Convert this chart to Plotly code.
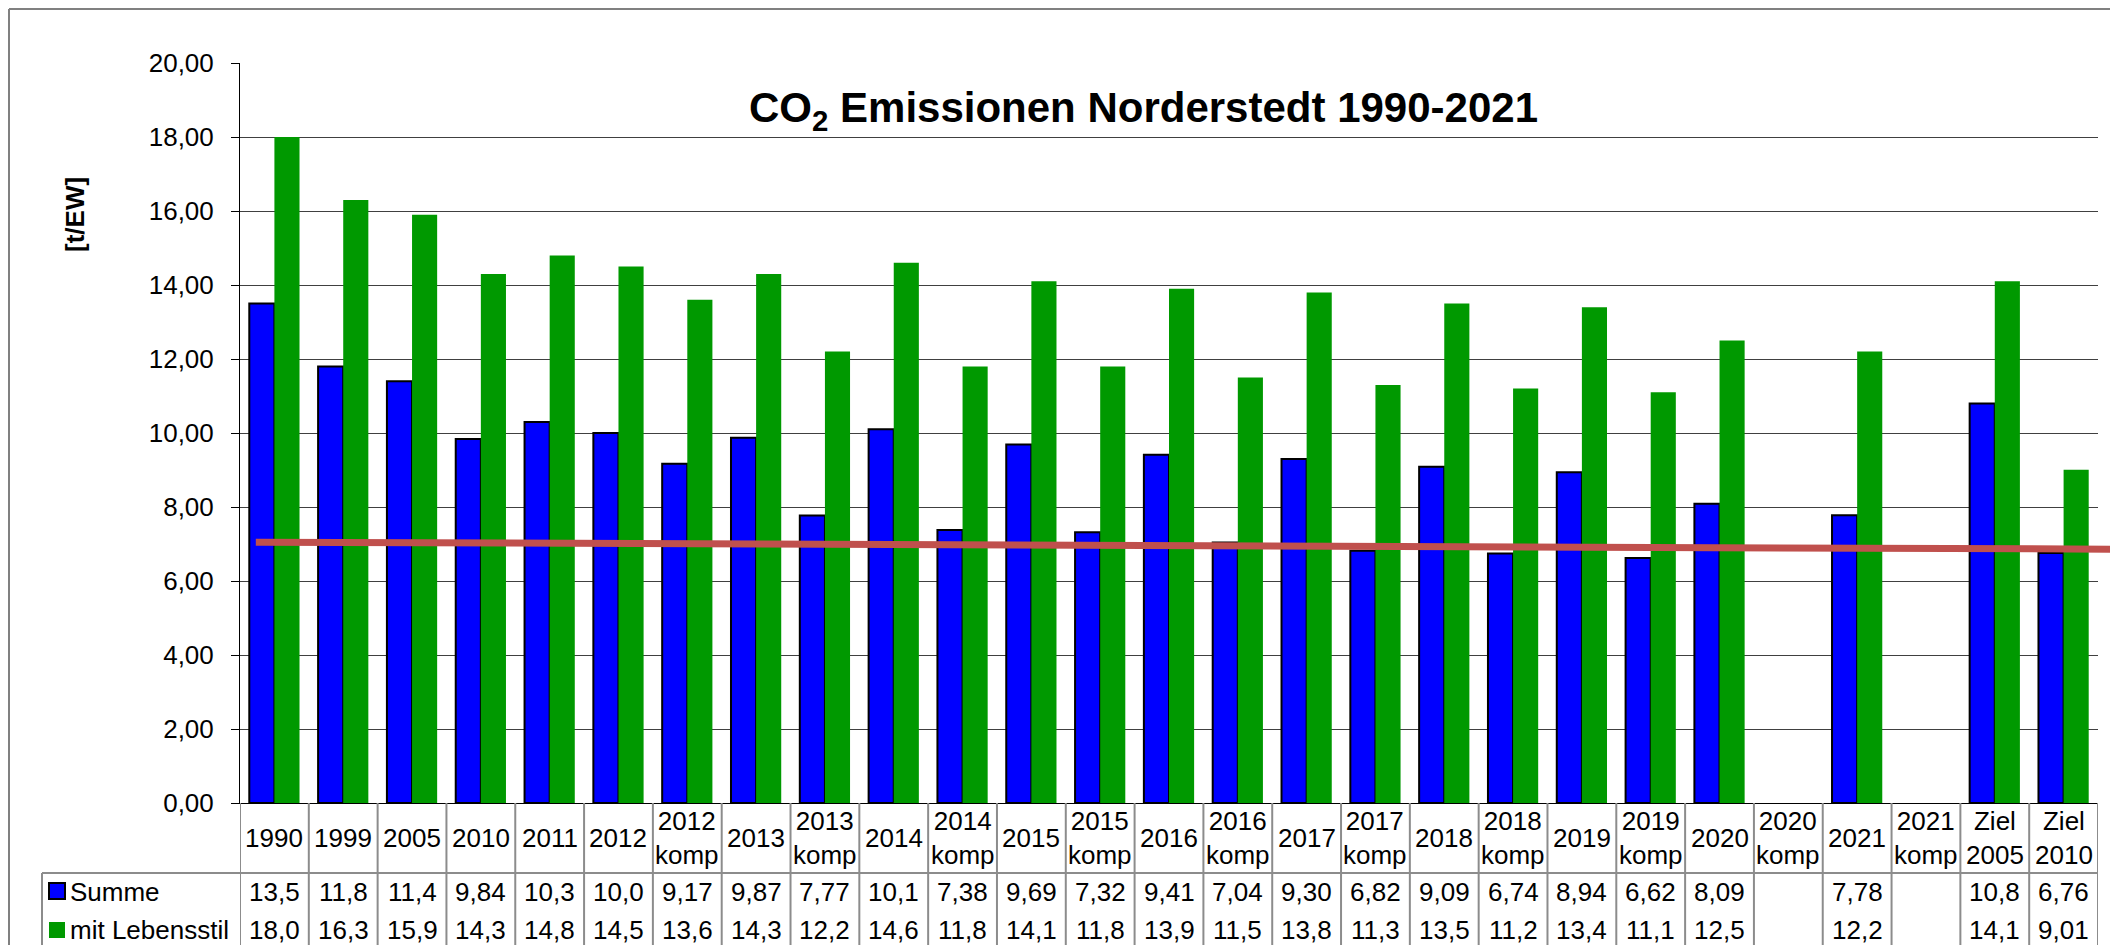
import plotly.graph_objects as go

# categories (table header) and series values
categories = ["1990", "1999", "2005", "2010", "2011", "2012", "2012 komp", "2013", "2013 komp",
              "2014", "2014 komp", "2015", "2015 komp", "2016", "2016 komp", "2017", "2017 komp",
              "2018", "2018 komp", "2019", "2019 komp", "2020", "2020 komp", "2021", "2021 komp",
              "Ziel 2005", "Ziel 2010"]
summe = [13.5, 11.8, 11.4, 9.84, 10.3, 10.0, 9.17, 9.87, 7.77, 10.1, 7.38, 9.69, 7.32, 9.41,
         7.04, 9.30, 6.82, 9.09, 6.74, 8.94, 6.62, 8.09, None, 7.78, None, 10.8, 6.76]
lebensstil = [18.0, 16.3, 15.9, 14.3, 14.8, 14.5, 13.6, 14.3, 12.2, 14.6, 11.8, 14.1, 11.8, 13.9,
              11.5, 13.8, 11.3, 13.5, 11.2, 13.4, 11.1, 12.5, None, 12.2, None, 14.1, 9.01]
# trend line: start / end value, positions in category units
trend_pos = [-0.27, 26.8]
trend_val = [7.05, 6.86]
y_ticks = [0, 2, 4, 6, 8, 10, 12, 14, 16, 18, 20]

W, H = 2118, 945
OFF = 8  # default body margin of the page
FONT = "Arial, Liberation Sans, sans-serif"
GRID = "#8c8c8c"


# screen pixel -> paper fraction
def fx(px):
    return (px - OFF) / W


def fy(py):
    return 1 - (py - OFF) / H


PL, PR, PT, PB = 240, 2098, 63, 803
n = len(categories)
px_per_cat = (PR - PL) / n
idx = list(range(n))


def fmt(v):
    return f"{v:#.3g}".replace(".", ",")


fig = go.Figure()

fig.add_trace(go.Bar(
    x=idx, y=summe, name="Summe",
    marker=dict(color="#0000FF", line=dict(color="black", width=2)),
    xaxis="x", yaxis="y"
))
fig.add_trace(go.Bar(
    x=idx, y=lebensstil, name="mit Lebensstil",
    marker=dict(color="#009900", line=dict(width=0)),
    xaxis="x", yaxis="y"
))

# trend line on an overlapping subplot that reaches the right picture edge
fig.add_trace(go.Scatter(
    x=trend_pos, y=trend_val, mode="lines",
    line=dict(color="#C0504D", width=7),
    xaxis="x2", yaxis="y2", hoverinfo="skip"
))

shapes = []
annotations = []
txt = dict(family=FONT, size=26, color="black")

# table vertical lines
for i in range(n + 1):
    shapes.append(dict(type="line", xref="x", yref="paper",
                       x0=i - 0.5, x1=i - 0.5, y0=fy(PB), y1=0,
                       line=dict(color=GRID, width=2)))
# horizontal line below header + legend column border
shapes.append(dict(type="line", xref="paper", yref="paper",
                   x0=fx(42), x1=fx(PR), y0=fy(873), y1=fy(873),
                   line=dict(color=GRID, width=2)))
shapes.append(dict(type="line", xref="paper", yref="paper",
                   x0=fx(42), x1=fx(42), y0=fy(873), y1=0,
                   line=dict(color=GRID, width=2)))
# outer chart border (right / bottom run off the picture)
shapes.append(dict(type="line", xref="paper", yref="paper",
                   x0=fx(9), x1=1, y0=fy(9), y1=fy(9),
                   line=dict(color="#808080", width=2)))
shapes.append(dict(type="line", xref="paper", yref="paper",
                   x0=fx(9), x1=fx(9), y0=fy(9), y1=0,
                   line=dict(color="#808080", width=2)))
# legend keys
shapes.append(dict(type="rect", xref="paper", yref="paper",
                   x0=fx(49), x1=fx(65), y0=fy(883), y1=fy(899),
                   fillcolor="#0000FF", line=dict(color="black", width=2)))
shapes.append(dict(type="rect", xref="paper", yref="paper",
                   x0=fx(49), x1=fx(65), y0=fy(922), y1=fy(938),
                   fillcolor="#009900", line=dict(width=0)))

# table texts
for i, cat in enumerate(categories):
    label = cat.replace(" komp", "<br>komp").replace("Ziel ", "Ziel<br>")
    annotations.append(dict(x=i, xref="x", y=fy(838), yref="paper", text=label,
                            showarrow=False, yanchor="middle", xanchor="center", font=txt))
    for row_y, series in ((892, summe), (930, lebensstil)):
        if series[i] is None:
            continue
        annotations.append(dict(x=i, xref="x", y=fy(row_y), yref="paper", text=fmt(series[i]),
                                showarrow=False, yanchor="middle", xanchor="center", font=txt))

annotations.append(dict(x=fx(68), y=fy(892), xref="paper", yref="paper", text="Summe",
                        showarrow=False, xanchor="left", yanchor="middle", font=txt))
annotations.append(dict(x=fx(68), y=fy(930), xref="paper", yref="paper", text="mit Lebensstil",
                        showarrow=False, xanchor="left", yanchor="middle", font=txt))

# title and axis title
annotations.append(dict(x=fx(1143), y=fy(111), xref="paper", yref="paper",
                        text="<b>CO<sub>2</sub> Emissionen Norderstedt 1990-2021</b>",
                        showarrow=False, xanchor="center", yanchor="middle",
                        font=dict(family=FONT, size=42, color="black")))
annotations.append(dict(x=fx(75), y=fy(215), xref="paper", yref="paper",
                        text="<b>[t/EW]</b>", textangle=-90,
                        showarrow=False, xanchor="center", yanchor="middle", font=txt))

fig.update_layout(
    width=W, height=H, autosize=False,
    margin=dict(l=0, r=0, t=0, b=0, pad=0, autoexpand=False),
    paper_bgcolor="white",
    plot_bgcolor="rgba(0,0,0,0)",
    separators=",.",
    showlegend=False,
    barmode="group",
    bargap=0.27,
    bargroupgap=0,
    xaxis=dict(domain=[fx(PL), fx(PR)], range=[-0.5, n - 0.5], automargin=False,
               showticklabels=False, showgrid=False, zeroline=False,
               showline=True, linecolor="black", linewidth=1, ticks=""),
    yaxis=dict(domain=[fy(PB), fy(PT)], range=[0, 20], tickvals=y_ticks, automargin=False,
               tickformat=".2f", ticks="outside", ticklen=8, tickcolor="black",
               ticklabelstandoff=12,
               showline=True, linecolor="black", linewidth=1,
               showgrid=True, gridcolor="#404040", gridwidth=1, zeroline=False,
               tickfont=txt),
    xaxis2=dict(domain=[fx(PL), 1], anchor="y2", automargin=False,
                range=[-0.5, -0.5 + (W + OFF - PL) / px_per_cat], visible=False),
    yaxis2=dict(domain=[fy(PB), fy(PT)], anchor="x2", range=[0, 20], automargin=False,
                visible=False),
    shapes=shapes,
    annotations=annotations,
)

fig.write_html("out.html")
